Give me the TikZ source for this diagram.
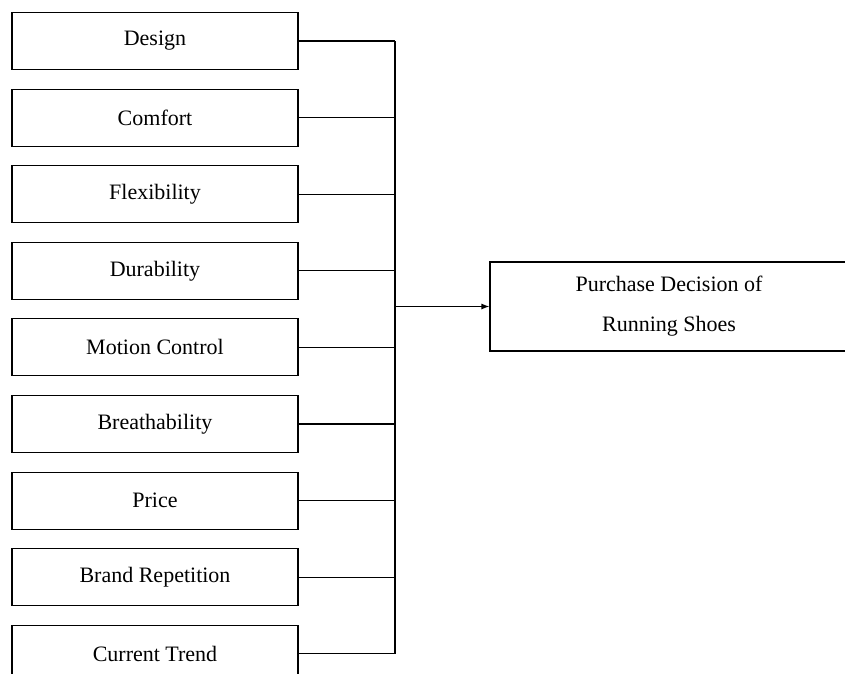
\documentclass[tikz,border=0pt]{standalone}
\usepackage{fontspec}
\setmainfont{Liberation Serif}
\usetikzlibrary{arrows.meta,positioning,calc}

\begin{document}
\begin{tikzpicture}[x=1pt,y=1pt,>={Latex[length=8pt,width=6pt]},line width=1.1pt,node distance=18.5pt,
 f/.style={draw,minimum width=286pt,minimum height=57pt,inner sep=0pt,font=\fontsize{22}{26}\selectfont},
 res/.style={draw,minimum width=358pt,minimum height=89pt,inner sep=0pt,align=center,font=\fontsize{22}{40}\selectfont}]
 \useasboundingbox (0,0) rectangle (845,-673);
 \node[f] (a) at (155,-41) {Design};
 \node[f,below=of a] (b) {Comfort};
 \node[f,below=of b] (c) {Flexibility};
 \node[f,below=of c] (d) {Durability};
 \node[f,below=of d] (e) {Motion Control};
 \node[f,below=of e] (g) {Breathability};
 \node[f,below=of g] (h) {Price};
 \node[f,below=of h] (i) {Brand Repetition};
 \node[f,below=of i] (j) {Current Trend};
 \node[res] (out) at (669,-306.5) {Purchase Decision of\\Running Shoes};
 \coordinate (bus) at (395,0);
 % feeders into the bus line
 \draw (a.east)--(a.east-|bus); \draw (b.east)--(b.east-|bus); \draw (c.east)--(c.east-|bus);
 \draw (d.east)--(d.east-|bus); \draw (e.east)--(e.east-|bus); \draw (g.east)--(g.east-|bus);
 \draw (h.east)--(h.east-|bus); \draw (i.east)--(i.east-|bus); \draw (j.east)--(j.east-|bus);
 \draw (a.east-|bus)--(j.east-|bus);
 \draw[->] (bus|-out.west)--(out.west);
\end{tikzpicture}
\end{document}
